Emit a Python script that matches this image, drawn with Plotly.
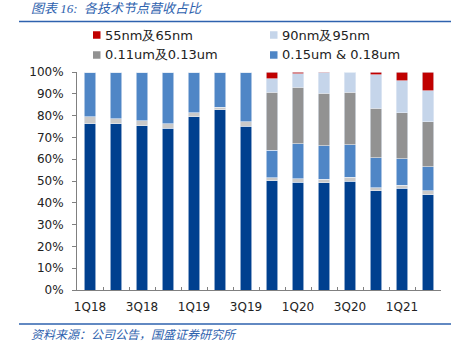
import plotly.graph_objects as go

quarters = ["1Q18", "2Q18", "3Q18", "4Q18", "1Q19", "2Q19", "3Q19",
            "4Q19", "1Q20", "2Q20", "3Q20", "4Q20", "1Q21", "2Q21"]
tick_labels = ["1Q18", "", "3Q18", "", "1Q19", "", "3Q19",
               "", "1Q20", "", "3Q20", "", "1Q21", ""]

# shares (%) by technology node, bottom to top
other_nodes = [76.3, 76.3, 75.4, 74.2, 79.4, 82.6, 75.2, 50.2, 49.4, 49.1, 49.8, 45.6, 46.6, 43.7]
minor_nodes = [3.1, 2.3, 2.3, 2.1, 1.8, 1.3, 2.0, 1.2, 1.7, 1.7, 2.0, 1.3, 1.4, 1.9]
um015_018 = [20.6, 21.4, 22.3, 23.7, 18.8, 16.1, 22.8, 12.7, 15.9, 15.4, 14.9, 13.7, 12.1, 11.0]
um011_013 = [0, 0, 0, 0, 0, 0, 0, 26.7, 26.0, 24.0, 24.1, 22.7, 21.1, 20.5]
nm90_95 = [0, 0, 0, 0, 0, 0, 0, 6.0, 6.2, 9.5, 9.0, 15.5, 14.7, 14.2]
nm55_65 = [0, 0, 0, 0, 0, 0, 0, 3.2, 0.8, 0.3, 0.2, 1.2, 4.1, 8.7]

series = [
    ("其他", other_nodes, "#00408F"),
    ("其他2", minor_nodes, "#C9C9C9"),
    ("0.15um & 0.18um", um015_018, "#4F86C6"),
    ("0.11um及0.13um", um011_013, "#929292"),
    ("90nm及95nm", nm90_95, "#C5D5EA"),
    ("55nm及65nm", nm55_65, "#C00000"),
]

fig = go.Figure()
for name, vals, col in series:
    fig.add_trace(go.Bar(
        x=quarters, y=vals, name=name, showlegend=False,
        marker=dict(color=col, line=dict(color="#E8EEF6", width=0.6)),
        hoverinfo="skip",
    ))

W, H = 463, 357
L, R, T, B = 77, 22, 72, 67
pw, ph = W - L - R, H - T - B


def px(x):
    return (x - L) / pw


def py(y):
    return (H - B - y) / ph


blue = "#2E62AE"
shapes = []
annotations = []

# title + rules
annotations.append(dict(text="图表 16:  各技术节点营收占比", x=px(29), y=py(8), xref="paper", yref="paper",
                        xanchor="left", yanchor="middle", showarrow=False,
                        font=dict(family="Liberation Serif, Noto Sans CJK SC", size=13, color=blue,
                                  style="italic")))
shapes.append(dict(type="line", xref="paper", yref="paper", x0=px(19), x1=px(451), y0=py(21.5), y1=py(21.5),
                   line=dict(color=blue, width=1.5)))
shapes.append(dict(type="line", xref="paper", yref="paper", x0=px(19), x1=px(451), y0=py(324), y1=py(324),
                   line=dict(color=blue, width=1.5)))
annotations.append(dict(text="资料来源：公司公告，国盛证券研究所", x=px(29), y=py(333), xref="paper", yref="paper",
                        xanchor="left", yanchor="middle", showarrow=False,
                        font=dict(family="Noto Sans CJK SC", size=12, color=blue, style="italic")))

# legend (manual)
legend_items = [
    ("55nm及65nm", "#C00000", 93, 35),
    ("90nm及95nm", "#C5D5EA", 270, 35),
    ("0.11um及0.13um", "#929292", 93, 55),
    ("0.15um & 0.18um", "#4F86C6", 270, 55),
]
for text, col, lx, ly in legend_items:
    shapes.append(dict(type="rect", xref="paper", yref="paper",
                       x0=px(lx), x1=px(lx + 7.5), y0=py(ly - 3.75), y1=py(ly + 3.75),
                       fillcolor=col, line=dict(width=0)))
    annotations.append(dict(text=text, x=px(lx + 10), y=py(ly), xref="paper", yref="paper",
                            xanchor="left", yanchor="middle", showarrow=False,
                            font=dict(family="DejaVu Sans", size=13, color="#222222")))

fig.update_layout(
    width=W, height=H, barmode="stack", bargap=0.57,
    margin=dict(l=L, r=R, t=T, b=B),
    plot_bgcolor="white", paper_bgcolor="white",
    shapes=shapes, annotations=annotations,
    font=dict(family="DejaVu Sans", size=12, color="#222222"),
)
fig.update_xaxes(
    tickmode="array", tickvals=quarters, ticktext=tick_labels,
    tickson="boundaries", ticks="inside", ticklen=3, tickcolor="#808080",
    showline=True, linecolor="#808080", linewidth=1,
    showgrid=False, tickangle=0, ticklabelstandoff=6,
    tickfont=dict(family="DejaVu Sans", size=12, color="#222222"),
)
fig.update_yaxes(
    range=[0, 100], tickvals=list(range(0, 101, 10)),
    ticktext=[f"{v}%" for v in range(0, 101, 10)],
    ticks="outside", ticklen=4, tickcolor="#808080",
    showline=True, linecolor="#808080", linewidth=1,
    showgrid=False, zeroline=False, ticklabelstandoff=6,
    tickfont=dict(family="DejaVu Sans", size=12, color="#222222"),
)

# remove the default 8px page margin so the figure sits at the window's corner
fig.write_html("out.html", config={"displayModeBar": False},
               post_script="document.body.style.margin='0';")
